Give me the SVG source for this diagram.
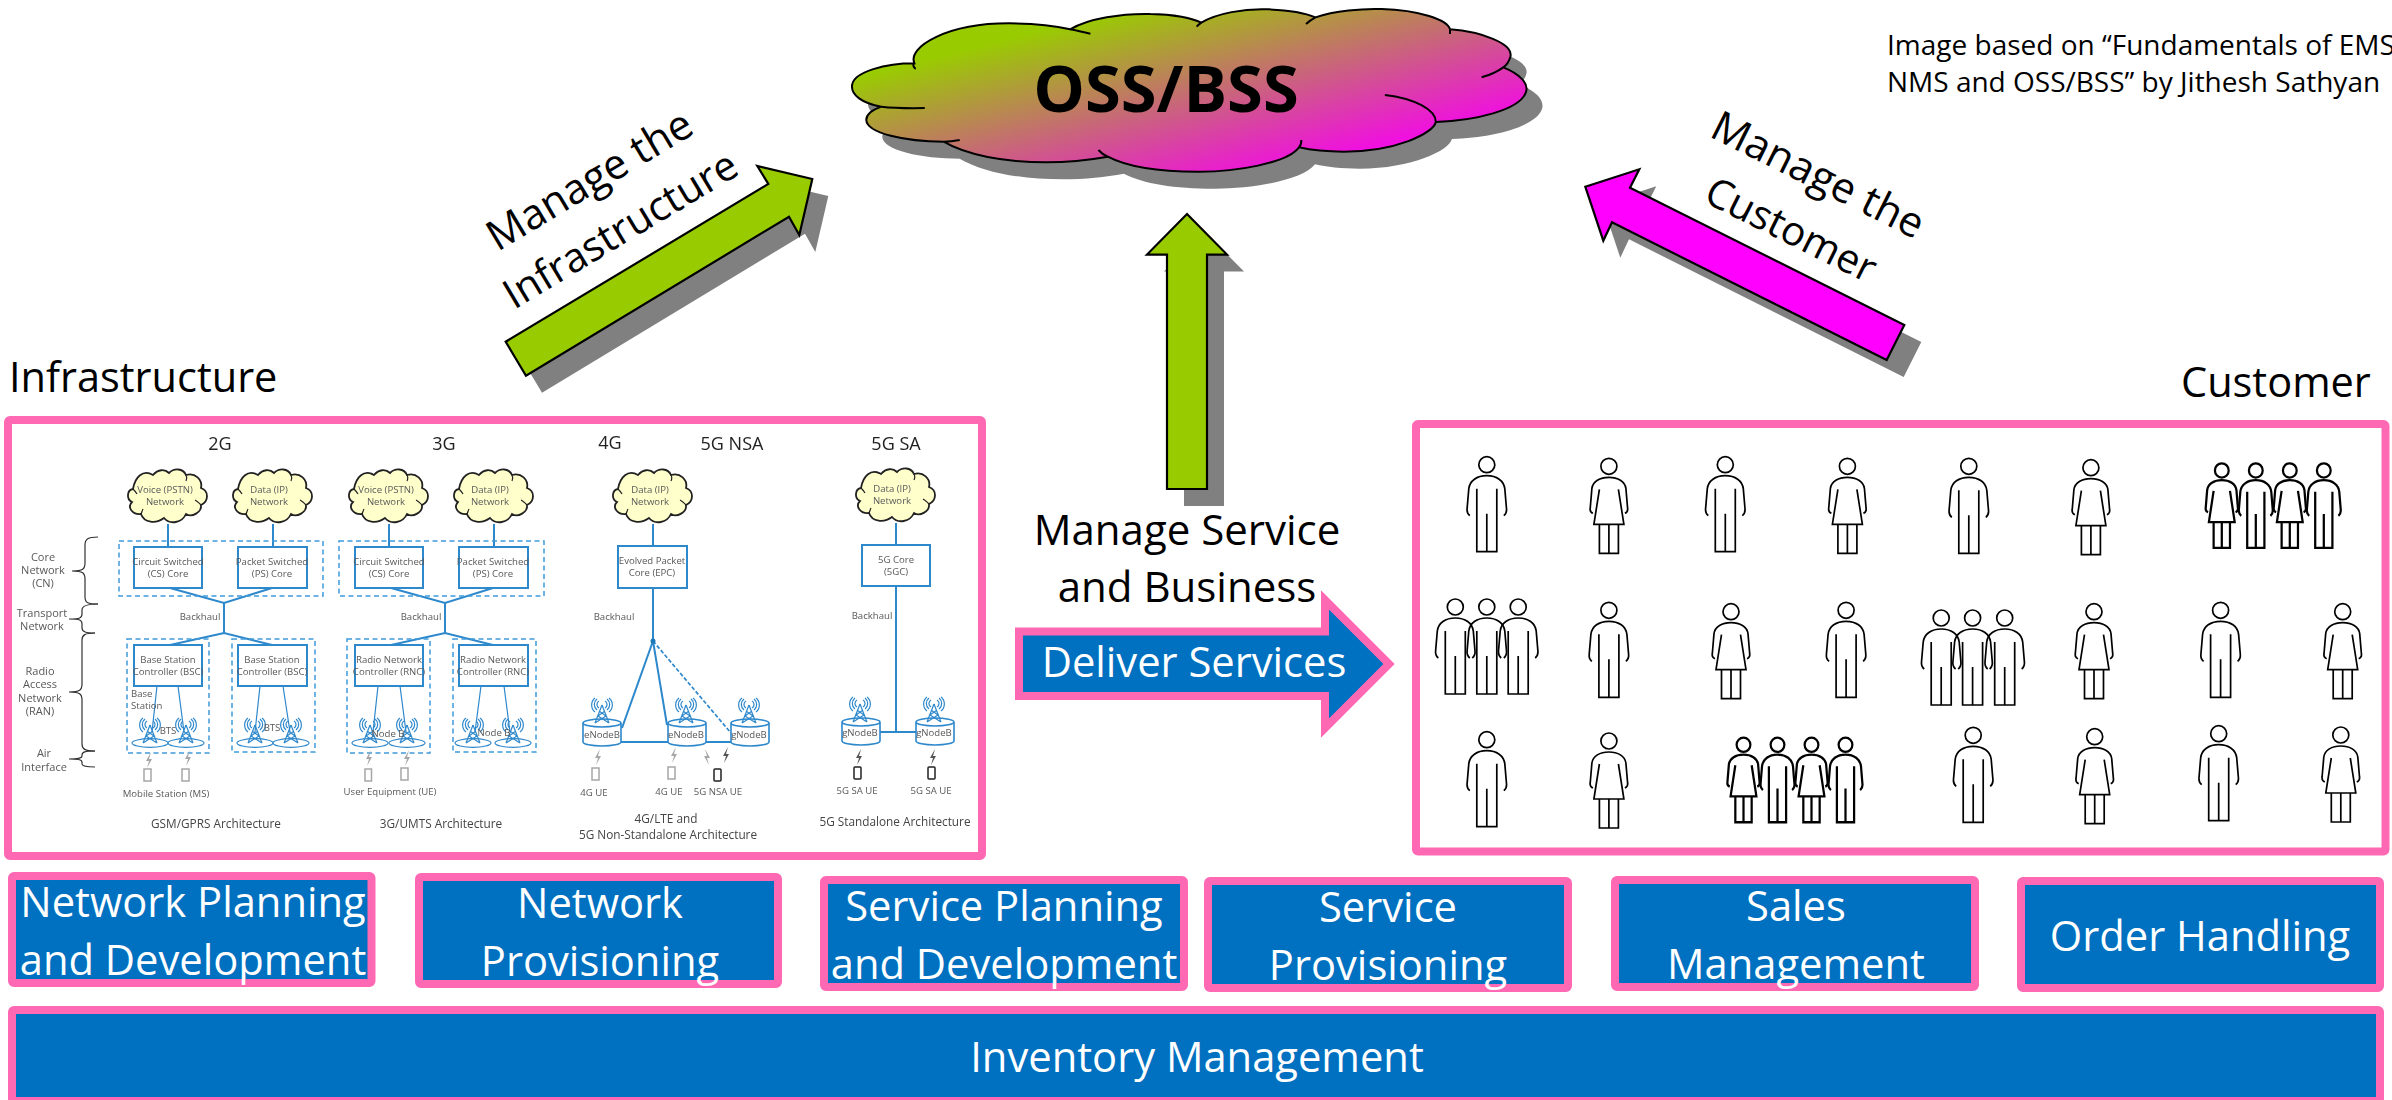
<svg xmlns="http://www.w3.org/2000/svg" width="2392" height="1100" viewBox="0 0 2392 1100">
<style>
text{font-family:"Open Sans","Noto Sans","Liberation Sans",sans-serif}
.lg{font-size:42px;fill:#000}
.btn{font-size:41.7px;fill:#fff;text-anchor:middle}
.box{fill:#0070C0;stroke:#FF69B4;stroke-width:8;stroke-linejoin:round}
.frame{fill:#fff;stroke:#FF69B4;stroke-width:8;stroke-linejoin:round}
.blk{stroke:#000;stroke-width:2.2;stroke-linejoin:miter}
.sh{fill:#808080}
.t{font-size:9.6px;fill:#595959;text-anchor:middle}
.ts{font-size:11px;fill:#595959;text-anchor:middle}
.h{font-size:18px;fill:#222;text-anchor:middle}
.c{font-size:11.8px;fill:#444;text-anchor:middle}
.bl{fill:none;stroke:#2E88CC;stroke-width:2}
.bx{fill:#fff;stroke:#2E88CC;stroke-width:2}
.th{fill:none;stroke:#2E88CC;stroke-width:1.2}
.ds{fill:none;stroke:#3F9BDC;stroke-width:1.5;stroke-dasharray:5 3.5}
.br{fill:none;stroke:#333;stroke-width:1.2}
.p{fill:none;stroke:#000}
#customers{stroke-width:1.7px}
.gp{stroke-width:2.6px}
.ph{fill:#fff;stroke:#A6A6A6;stroke-width:1.5}
.phk{fill:#fff;stroke:#222;stroke-width:1.5}
.z{fill:#A6A6A6}
.zk{fill:#555}
</style>
<defs>
<linearGradient id="cg" gradientUnits="userSpaceOnUse" x1="82" y1="229" x2="275" y2="763">
<stop offset="0" stop-color="#99CC00"/><stop offset="1" stop-color="#F010E0"/>
</linearGradient>
<path id="bigcloud" d="M200 190C185 140 270 70 400 70C450 70 500 78 530 88C570 55 640 40 700 42C750 42 790 55 808 68C840 40 900 25 950 28C990 30 1030 40 1050 52C1090 32 1150 25 1190 27C1270 30 1330 60 1335 88C1400 95 1470 130 1463 170C1460 185 1455 195 1448 202C1480 220 1505 250 1495 280C1480 330 1390 362 1305 366C1300 400 1220 455 1110 455C1070 455 1040 450 1015 442C990 490 880 516 800 515C720 515 650 500 610 470C570 480 530 487 480 487C390 487 310 465 262 425C180 425 100 400 98 360C98 345 110 330 130 320C90 310 65 285 68 255C72 215 140 190 200 190Z"/>
<polygon id="arUp" points="1187,214 1227,254.6 1207,254.6 1207,489 1167,489 1167,254.6 1147,254.6"/>
<polygon id="arInf" points="505.7,341.7 526,375.7 789,216.7 799.3,235 812.3,179 757.3,166 768.3,184"/>
<polygon id="arCus" points="1585.3,186.7 1639.3,169.3 1630,187.7 1904.3,325 1886.7,360 1612,222.3 1603.3,240.7"/>
<g id="mc">
<path d="M-35-8C-33-20-25-28-15-22C-10-28-3-28 1-24C6-29 15-29 18-22C27-25 35-17 33-9C41-6 41 4 33 8C34 15 24 21 18 17C14 26 2 28-4 21C-12 27-24 26-27 17C-36 18-41 10-36 5C-42 2-41-7-35-8Z" fill="#FFFFCC" stroke="#222" stroke-width="1.8"/>
<path d="M-35-8C-33-6-32-5-31-3M18-22C19-20 19-18 18-16M33 8C31 6 29 4 27 3M-27 17C-26 15-26 14-25 12" fill="none" stroke="#222" stroke-width="1.2"/>
</g>
<g id="tw" class="th">
<path d="M0-18L-7 0M0-18L7 0M-7 0L4-7M7 0L-4-7M-4-7L3-12M4-7L-3-12"/>
<path d="M-3-22A4 4 0 0 0-3-15M3-22A4 4 0 0 1 3-15M-5-24A7 7 0 0 0-5-13M5-24A7 7 0 0 1 5-13M-7-25A9 9 0 0 0-7-11M7-25A9 9 0 0 1 7-11"/>
</g>
<g id="bts"><ellipse cx="0" cy="0" rx="18" ry="4.3" class="th"/><use href="#tw"/></g>
<path id="cy" d="M0 4A19 4 0 0 1 38 4V23A19 4 0 0 1 0 23ZM0 4A19 4 0 0 0 38 4" fill="#fff" stroke="#2E88CC" stroke-width="1.6"/>
<polygon id="zz" points="2,-8 -3,1 0,1 -2,8 3,-1 0,-1"/>
<g id="man" class="p">
<circle cx="0" cy="8" r="8"/>
<path d="M-17 59C-19.500 57-20 55-19.700 52L-18 32C-17 24-10 19 0 19C10 19 17 24 18 32L19.700 52C20 55 19.500 57 17 59"/>
<path d="M-10 32V95H10V32M0 57V95"/>
</g>
<g id="woman" class="p">
<circle cx="0" cy="8" r="8"/>
<path d="M-16 55C-18.500 54-19 52-18.700 50L-17 30C-16 23-9 19 0 19C9 19 16 23 17 30L18.700 50C19 52 18.500 54 16 55"/>
<path d="M-9.500 31L-15 66H15L9.500 31M-9.500 66V95H9.500V66M0 66V95"/>
</g>
<filter id="soft" x="-2%" y="-2%" width="104%" height="104%"><feGaussianBlur stdDeviation="0.35"/></filter>
</defs>

<g id="connectors">
<use href="#arUp" class="sh" transform="translate(17 17)"/>
<use href="#arInf" class="sh" transform="translate(16 17)"/>
<use href="#arCus" class="sh" transform="translate(17 17)"/>
<use href="#arUp" fill="#99CC00" class="blk"/>
<use href="#arInf" fill="#99CC00" class="blk"/>
<use href="#arCus" fill="#FF00FF" class="blk"/>
</g>

<g id="cloud-oss">
<use href="#bigcloud" class="sh" transform="translate(836 17) scale(.4719 .3333)"/>
<g transform="translate(820 0) scale(.4719 .3333)">
<use href="#bigcloud" fill="url(#cg)"/>
<path d="M200 190C185 140 270 70 400 70C450 70 500 78 530 88C570 55 640 40 700 42C750 42 790 55 808 68C840 40 900 25 950 28C990 30 1030 40 1050 52C1090 32 1150 25 1190 27C1270 30 1330 60 1335 88C1400 95 1470 130 1463 170C1460 185 1455 195 1448 202C1480 220 1505 250 1495 280C1480 330 1390 362 1305 366C1300 400 1220 455 1110 455C1070 455 1040 450 1015 442C990 490 880 516 800 515C720 515 650 500 610 470C570 480 530 487 480 487C390 487 310 465 262 425C180 425 100 400 98 360C98 345 110 330 130 320C90 310 65 285 68 255C72 215 140 190 200 190ZM130 320C155 324 190 325 222 324M200 190C195 195 200 205 203 206M530 88C545 92 560 97 573 101M808 68C804 72 800 77 798 80M1050 52C1042 58 1035 65 1030 72M1335 88V102M1448 202C1435 215 1420 225 1402 232M1197 285C1260 295 1305 330 1305 366M1015 442C1020 435 1020 428 1020 420M610 470C600 465 595 458 590 450M262 425C275 425 285 423 296 420" fill="none" stroke="#000" stroke-width="2" vector-effect="non-scaling-stroke"/>
</g>
<text x="1166" y="112" text-anchor="middle" font-size="65" font-weight="700" fill="#000">OSS/BSS</text>
</g>

<g id="credit">
<text x="1887" y="55" font-size="28" fill="#000">Image based on “Fundamentals of EMS</text>
<text x="1887" y="92" font-size="28" fill="#000">NMS and OSS/BSS” by Jithesh Sathyan</text>
</g>

<text class="lg" transform="translate(497.500 252) rotate(-31)">Manage the</text>
<text class="lg" style="font-size:41px" transform="translate(514 310) rotate(-31)">Infrastructure</text>
<text class="lg" transform="translate(1708 136) rotate(26.500)">Manage the</text>
<text class="lg" style="font-size:40.5px" transform="translate(1702 201) rotate(26.500)">Customer</text>
<text class="lg" style="font-size:41.5px" x="9" y="392">Infrastructure</text>
<text class="lg" style="font-size:41.5px" x="2181" y="397">Customer</text>
<text class="lg" x="1187" y="545" text-anchor="middle">Manage Service</text>
<text class="lg" x="1187" y="602" text-anchor="middle">and Business</text>

<g id="deliver">
<polygon class="box" style="stroke-linejoin:miter" points="1019,631.500 1325,631.500 1325,600 1389,664 1325,728 1325,696 1019,696"/>
<text class="btn" x="1194" y="677">Deliver Services</text>
</g>

<g id="infrastructure-frame"><rect class="frame" x="8" y="420" width="974" height="436" rx="2"/></g>

<g id="infrastructure-diagram" filter="url(#soft)">
<g id="mini-connectors">
<path class="bl" d="M168 524V547M273 524V547M389 524V547M494 524V547M653 524V546M896 523V545"/>
<path class="bl" d="M170 588L224 603L272 588M224 603V633M170 645L224 633L272 645M391 588L445 603L493 588M445 603V633M391 645L445 633L493 645"/>
<path class="th" d="M157 686L152 732M178 686L184 732M260 686L255 732M283 686L290 732M378 686L373 732M400 686L406 732M481 686L475 732M504 686L510 732"/>
<path class="bl" d="M653 588V641M653 641L622 728M653 641L667 725M621 742H668M705 742H731M896 586V732M879 732H916"/>
<path d="M653 641L731 733" fill="none" stroke="#2E88CC" stroke-width="1.700" stroke-dasharray="4 2"/>
<circle cx="653" cy="641" r="2.500" fill="#1F77B9"/>
</g>
<path class="ds" d="M119 541H323V596H119ZM339 541H544V596H339ZM127 639H209V753H127ZM232 639H315V752H232ZM347 639H430V753H347ZM453 639H536V752H453Z"/>
<text x="220" y="450" class="h">2G</text><text x="444" y="450" class="h">3G</text><text x="610" y="449" class="h">4G</text><text x="732" y="450" class="h">5G NSA</text><text x="896" y="450" class="h">5G SA</text>
<use href="#mc" x="168" y="497"/><use href="#mc" x="273" y="497"/><use href="#mc" x="389" y="497"/><use href="#mc" x="494" y="497"/><use href="#mc" x="653" y="497"/><use href="#mc" x="896" y="496"/>
<text class="t" x="165" y="493">Voice (PSTN)</text><text class="t" x="165" y="505">Network</text>
<text class="t" x="269" y="493">Data (IP)</text><text class="t" x="269" y="505">Network</text>
<text class="t" x="386" y="493">Voice (PSTN)</text><text class="t" x="386" y="505">Network</text>
<text class="t" x="490" y="493">Data (IP)</text><text class="t" x="490" y="505">Network</text>
<text class="t" x="650" y="493">Data (IP)</text><text class="t" x="650" y="505">Network</text>
<text class="t" x="892" y="492">Data (IP)</text><text class="t" x="892" y="504">Network</text>
<rect class="bx" x="134" y="547" width="68" height="41"/><rect class="bx" x="238" y="547" width="69" height="41"/><rect class="bx" x="355" y="547" width="68" height="41"/><rect class="bx" x="459" y="547" width="69" height="41"/>
<rect class="bx" x="134" y="645" width="68" height="41"/><rect class="bx" x="238" y="645" width="69" height="41"/><rect class="bx" x="355" y="645" width="68" height="41"/><rect class="bx" x="459" y="645" width="69" height="41"/>
<rect class="bx" x="618" y="546" width="69" height="42"/><rect class="bx" x="862" y="545" width="68" height="41"/>
<text class="t" x="168" y="565">Circuit Switched</text><text class="t" x="168" y="577">(CS) Core</text>
<text class="t" x="272" y="565">Packet Switched</text><text class="t" x="272" y="577">(PS) Core</text>
<text class="t" x="389" y="565">Circuit Switched</text><text class="t" x="389" y="577">(CS) Core</text>
<text class="t" x="493" y="565">Packet Switched</text><text class="t" x="493" y="577">(PS) Core</text>
<text class="t" x="168" y="663">Base Station</text><text class="t" x="168" y="675">Controller (BSC)</text>
<text class="t" x="272" y="663">Base Station</text><text class="t" x="272" y="675">Controller (BSC)</text>
<text class="t" x="389" y="663">Radio Network</text><text class="t" x="389" y="675">Controller (RNC)</text>
<text class="t" x="493" y="663">Radio Network</text><text class="t" x="493" y="675">Controller (RNC)</text>
<text class="t" x="652" y="564">Evolved Packet</text><text class="t" x="652" y="576">Core (EPC)</text>
<text class="t" x="896" y="563">5G Core</text><text class="t" x="896" y="575">(5GC)</text>
<text class="t" x="200" y="620">Backhaul</text><text class="t" x="421" y="620">Backhaul</text><text class="t" x="614" y="620">Backhaul</text><text class="t" x="872" y="619">Backhaul</text>
<text class="t" x="131" y="697" style="text-anchor:start">Base</text><text class="t" x="131" y="709" style="text-anchor:start">Station</text>
<use href="#bts" x="150" y="743"/><use href="#bts" x="186" y="743"/><use href="#bts" x="255" y="743"/><use href="#bts" x="291" y="743"/><use href="#bts" x="370" y="743"/><use href="#bts" x="407" y="743"/><use href="#bts" x="473" y="743"/><use href="#bts" x="513" y="743"/>
<text class="t" x="168" y="734">BTS</text><text class="t" x="272" y="731">BTS</text><text class="t" x="388" y="737">Node B</text><text class="t" x="494" y="736">Node B</text>
<use href="#cy" x="583" y="719"/><use href="#cy" x="668" y="719"/><use href="#cy" x="731" y="719"/><use href="#cy" x="842" y="718"/><use href="#cy" x="916" y="718"/>
<use href="#tw" x="602" y="723"/><use href="#tw" x="686" y="723"/><use href="#tw" x="749" y="723"/><use href="#tw" x="860" y="722"/><use href="#tw" x="934" y="722"/>
<text class="t" x="602" y="738">eNodeB</text><text class="t" x="686" y="738">eNodeB</text><text class="t" x="749" y="738">gNodeB</text><text class="t" x="860" y="736">gNodeB</text><text class="t" x="934" y="736">gNodeB</text>
<g class="z"><use href="#zz" x="149" y="760"/><use href="#zz" x="188" y="758"/><use href="#zz" x="369" y="758"/><use href="#zz" x="407" y="758"/><use href="#zz" x="598" y="757"/><use href="#zz" x="674" y="755"/><use href="#zz" transform="translate(707 757) scale(-1 1)"/></g>
<g class="zk"><use href="#zz" x="726" y="755"/><use href="#zz" x="859" y="757"/><use href="#zz" x="933" y="757"/></g>
<g class="ph"><rect x="144" y="769" width="7" height="12"/><rect x="182" y="769" width="7" height="12"/><rect x="365" y="769" width="6.500" height="12"/><rect x="401" y="768" width="7" height="12"/><rect x="592" y="768" width="7" height="12"/><rect x="668" y="767" width="7" height="12"/></g>
<g class="phk"><rect x="714" y="769" width="7" height="12" rx="1"/><rect x="854" y="767" width="7" height="12" rx="1"/><rect x="928" y="767" width="7" height="12" rx="1"/></g>
<text class="t" x="166" y="797">Mobile Station (MS)</text><text class="t" x="390" y="795">User Equipment (UE)</text>
<text class="t" x="594" y="796">4G UE</text><text class="t" x="669" y="795">4G UE</text><text class="t" x="718" y="795">5G NSA UE</text><text class="t" x="857" y="794">5G SA UE</text><text class="t" x="931" y="794">5G SA UE</text>
<text class="c" x="216" y="828">GSM/GPRS Architecture</text><text class="c" x="441" y="828">3G/UMTS Architecture</text>
<text class="c" x="666" y="823">4G/LTE and</text><text class="c" x="668" y="839">5G Non-Standalone Architecture</text><text class="c" x="895" y="826">5G Standalone Architecture</text>
<path class="br" d="M98 537C88 537 85 539 85 545V563C85 569 83 571 72 571C83 571 85 573 85 579V597C85 603 88 604 98 604"/>
<path class="br" d="M98 604C86 604 82 606 82 610V614C82 618 80 619 69 619C80 619 82 620 82 624V628C82 632 86 633 95 633"/>
<path class="br" d="M95 633C85 633 82 635 82 640V684C82 690 80 692 69 692C80 692 82 694 82 700V744C82 749 85 751 95 751"/>
<path class="br" d="M95 751C85 751 82 752 82 755V756C82 758 80 759 69 759C80 759 82 760 82 762V764C82 766 85 767 95 767"/>
<text class="ts" x="43" y="561">Core</text><text class="ts" x="43" y="574">Network</text><text class="ts" x="43" y="587">(CN)</text>
<text class="ts" x="42" y="617">Transport</text><text class="ts" x="42" y="630">Network</text>
<text class="ts" x="40" y="675">Radio</text><text class="ts" x="40" y="688">Access</text><text class="ts" x="40" y="702">Network</text><text class="ts" x="40" y="715">(RAN)</text>
<text class="ts" x="44" y="757">Air</text><text class="ts" x="44" y="771">Interface</text>
</g>

<g id="customer-frame"><rect class="frame" x="1416" y="424" width="969.500" height="427.500" rx="2"/></g>

<g id="customers">
<use href="#man" x="1486.800" y="456.700"/><use href="#woman" x="1608.900" y="458.300"/><use href="#man" x="1725.300" y="456.700"/><use href="#woman" x="1847.400" y="458.300"/><use href="#man" x="1968.800" y="458.300"/><use href="#woman" x="2090.900" y="459.700"/>
<g class="gp"><use href="#woman" transform="translate(2221.800 463.300) scale(.86 .89)"/><use href="#man" transform="translate(2255.800 463.300) scale(.86 .89)"/><use href="#woman" transform="translate(2289.800 463.300) scale(.86 .89)"/><use href="#man" transform="translate(2323.800 463.300) scale(.86 .89)"/></g>
<use href="#man" x="1455.300" y="599"/><use href="#man" x="1486.800" y="599"/><use href="#man" x="1518.200" y="599"/>
<use href="#man" x="1608.900" y="602.300"/><use href="#woman" x="1731" y="603.700"/><use href="#man" x="1846.100" y="602.300"/>
<use href="#man" x="1941.200" y="610"/><use href="#man" x="1972.600" y="610"/><use href="#man" x="2004.700" y="610"/>
<use href="#woman" x="2094" y="603.700"/><use href="#man" x="2220.600" y="602.300"/><use href="#woman" x="2342.700" y="603.700"/>
<use href="#man" x="1486.800" y="731.700"/><use href="#woman" x="1608.900" y="733"/>
<g class="gp"><use href="#woman" transform="translate(1743.500 737.700) scale(.86 .89)"/><use href="#man" transform="translate(1777.500 737.700) scale(.86 .89)"/><use href="#woman" transform="translate(1811.500 737.700) scale(.86 .89)"/><use href="#man" transform="translate(1845.500 737.700) scale(.86 .89)"/></g>
<use href="#man" x="1973.200" y="727.300"/><use href="#woman" x="2094.700" y="728.700"/><use href="#man" x="2218.700" y="725.700"/><use href="#woman" x="2340.800" y="727"/>
</g>

<g id="network-planning"><rect class="box" x="12" y="876" width="359.500" height="107" rx="2"/><text class="btn" x="193" y="917">Network Planning</text><text class="btn" x="193" y="975">and Development</text></g>
<g id="network-provisioning"><rect class="box" x="419" y="877" width="359" height="107" rx="2"/><text class="btn" x="600" y="918">Network</text><text class="btn" x="600" y="976">Provisioning</text></g>
<g id="service-planning"><rect class="box" x="824" y="880" width="360" height="107" rx="2"/><text class="btn" x="1004" y="921">Service Planning</text><text class="btn" x="1004" y="979">and Development</text></g>
<g id="service-provisioning"><rect class="box" x="1208" y="881" width="360" height="107" rx="2"/><text class="btn" x="1388" y="922">Service</text><text class="btn" x="1388" y="980">Provisioning</text></g>
<g id="sales-management"><rect class="box" x="1615" y="880" width="360" height="107" rx="2"/><text class="btn" x="1796" y="921">Sales</text><text class="btn" x="1796" y="979">Management</text></g>
<g id="order-handling"><rect class="box" x="2021" y="881" width="359" height="107" rx="2"/><text class="btn" x="2200" y="951">Order Handling</text></g>
<g id="inventory-management"><rect class="box" x="12" y="1010" width="2368" height="91" rx="2"/><text class="btn" x="1197" y="1072">Inventory Management</text></g>
</svg>
